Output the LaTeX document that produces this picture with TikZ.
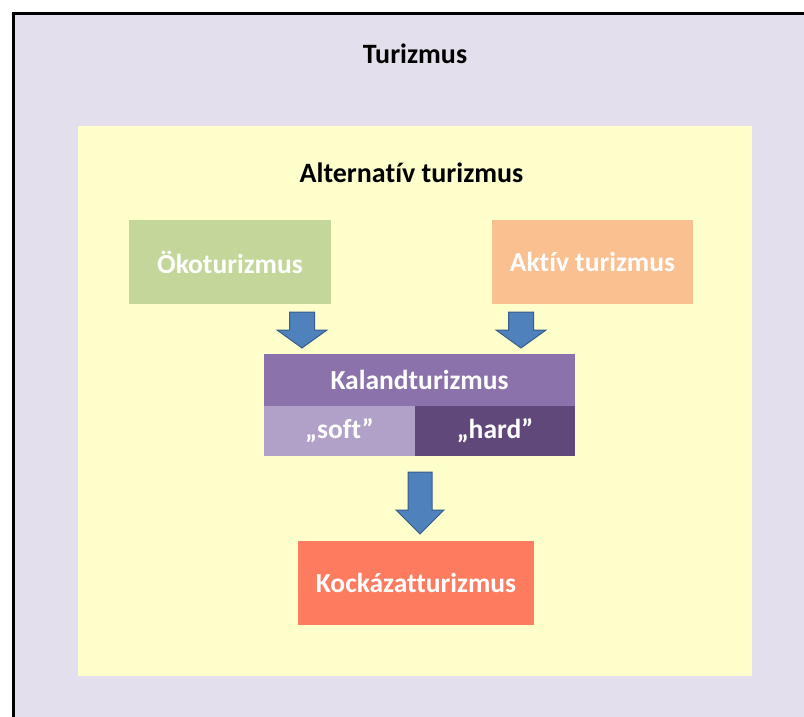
\documentclass[tikz,border=0pt]{standalone}
\usepackage{fontspec}
\setmainfont{Carlito}[Ligatures=NoCommon]
\definecolor{lav}{HTML}{E4DFEC}
\definecolor{yel}{HTML}{FFFFCC}
\definecolor{grn}{HTML}{C4D79B}
\definecolor{org}{HTML}{FAC090}
\definecolor{pur}{HTML}{8C72AA}
\definecolor{softc}{HTML}{B1A0C7}
\definecolor{hardc}{HTML}{60497A}
\definecolor{kock}{HTML}{FD7B5F}
\definecolor{arrf}{HTML}{4F81BD}
\definecolor{arrd}{HTML}{385D8A}
\begin{document}
\begin{tikzpicture}[x=1pt,y=-1pt,
  box/.style={rectangle, inner sep=0pt, text=white, font=\bfseries\fontsize{27.5}{32}\selectfont},
  title/.style={inner sep=0pt, anchor=base, font=\bfseries\fontsize{28}{32}\selectfont},
  blockarrow/.style={fill=arrf, draw=arrd, line width=1pt, line join=miter}]
\useasboundingbox (0,0) rectangle (804,717);
\fill[white] (0,0) rectangle (804,717);
\fill[lav] (15,15) rectangle (804,717);
\draw[line width=3pt] (13.5,717) -- (13.5,13.5) -- (804,13.5);
\fill[yel] (78,126) rectangle (752,676);
\node[title] (tur) at (415,64) {Turizmus};
\node[title] (alt) at (411.5,182) {Alternatív turizmus};
\node[box, fill=grn, minimum width=202pt, minimum height=84pt] (oko) at (230,262) {Ökoturizmus};
\node[box, fill=org, minimum width=201pt, minimum height=84pt] (akt) at (592.5,262) {Aktív turizmus};
\node[box, fill=pur, minimum width=311pt, minimum height=52pt] (kal) at (419.5,380) {Kalandturizmus};
\node[box, fill=softc, minimum width=151pt, minimum height=50pt] (soft) at (339.5,431) {„soft”};
\node[box, fill=hardc, minimum width=160pt, minimum height=50pt] (hard) at (495,431) {„hard”};
\node[box, fill=kock, minimum width=236pt, minimum height=84pt] (kok) at (416,583) {Kockázatturizmus};
% block arrows
\draw[blockarrow] (289.5,312) -- (314.5,312) -- (314.5,330) -- (327,330) -- (302,348) -- (277,330) -- (289.5,330) -- cycle;
\draw[blockarrow] (508.5,312) -- (533.5,312) -- (533.5,330) -- (546,330) -- (521,348) -- (496,330) -- (508.5,330) -- cycle;
\draw[blockarrow] (408,472) -- (432,472) -- (432,510) -- (444,510) -- (420,534) -- (396,510) -- (408,510) -- cycle;
\end{tikzpicture}
\end{document}
